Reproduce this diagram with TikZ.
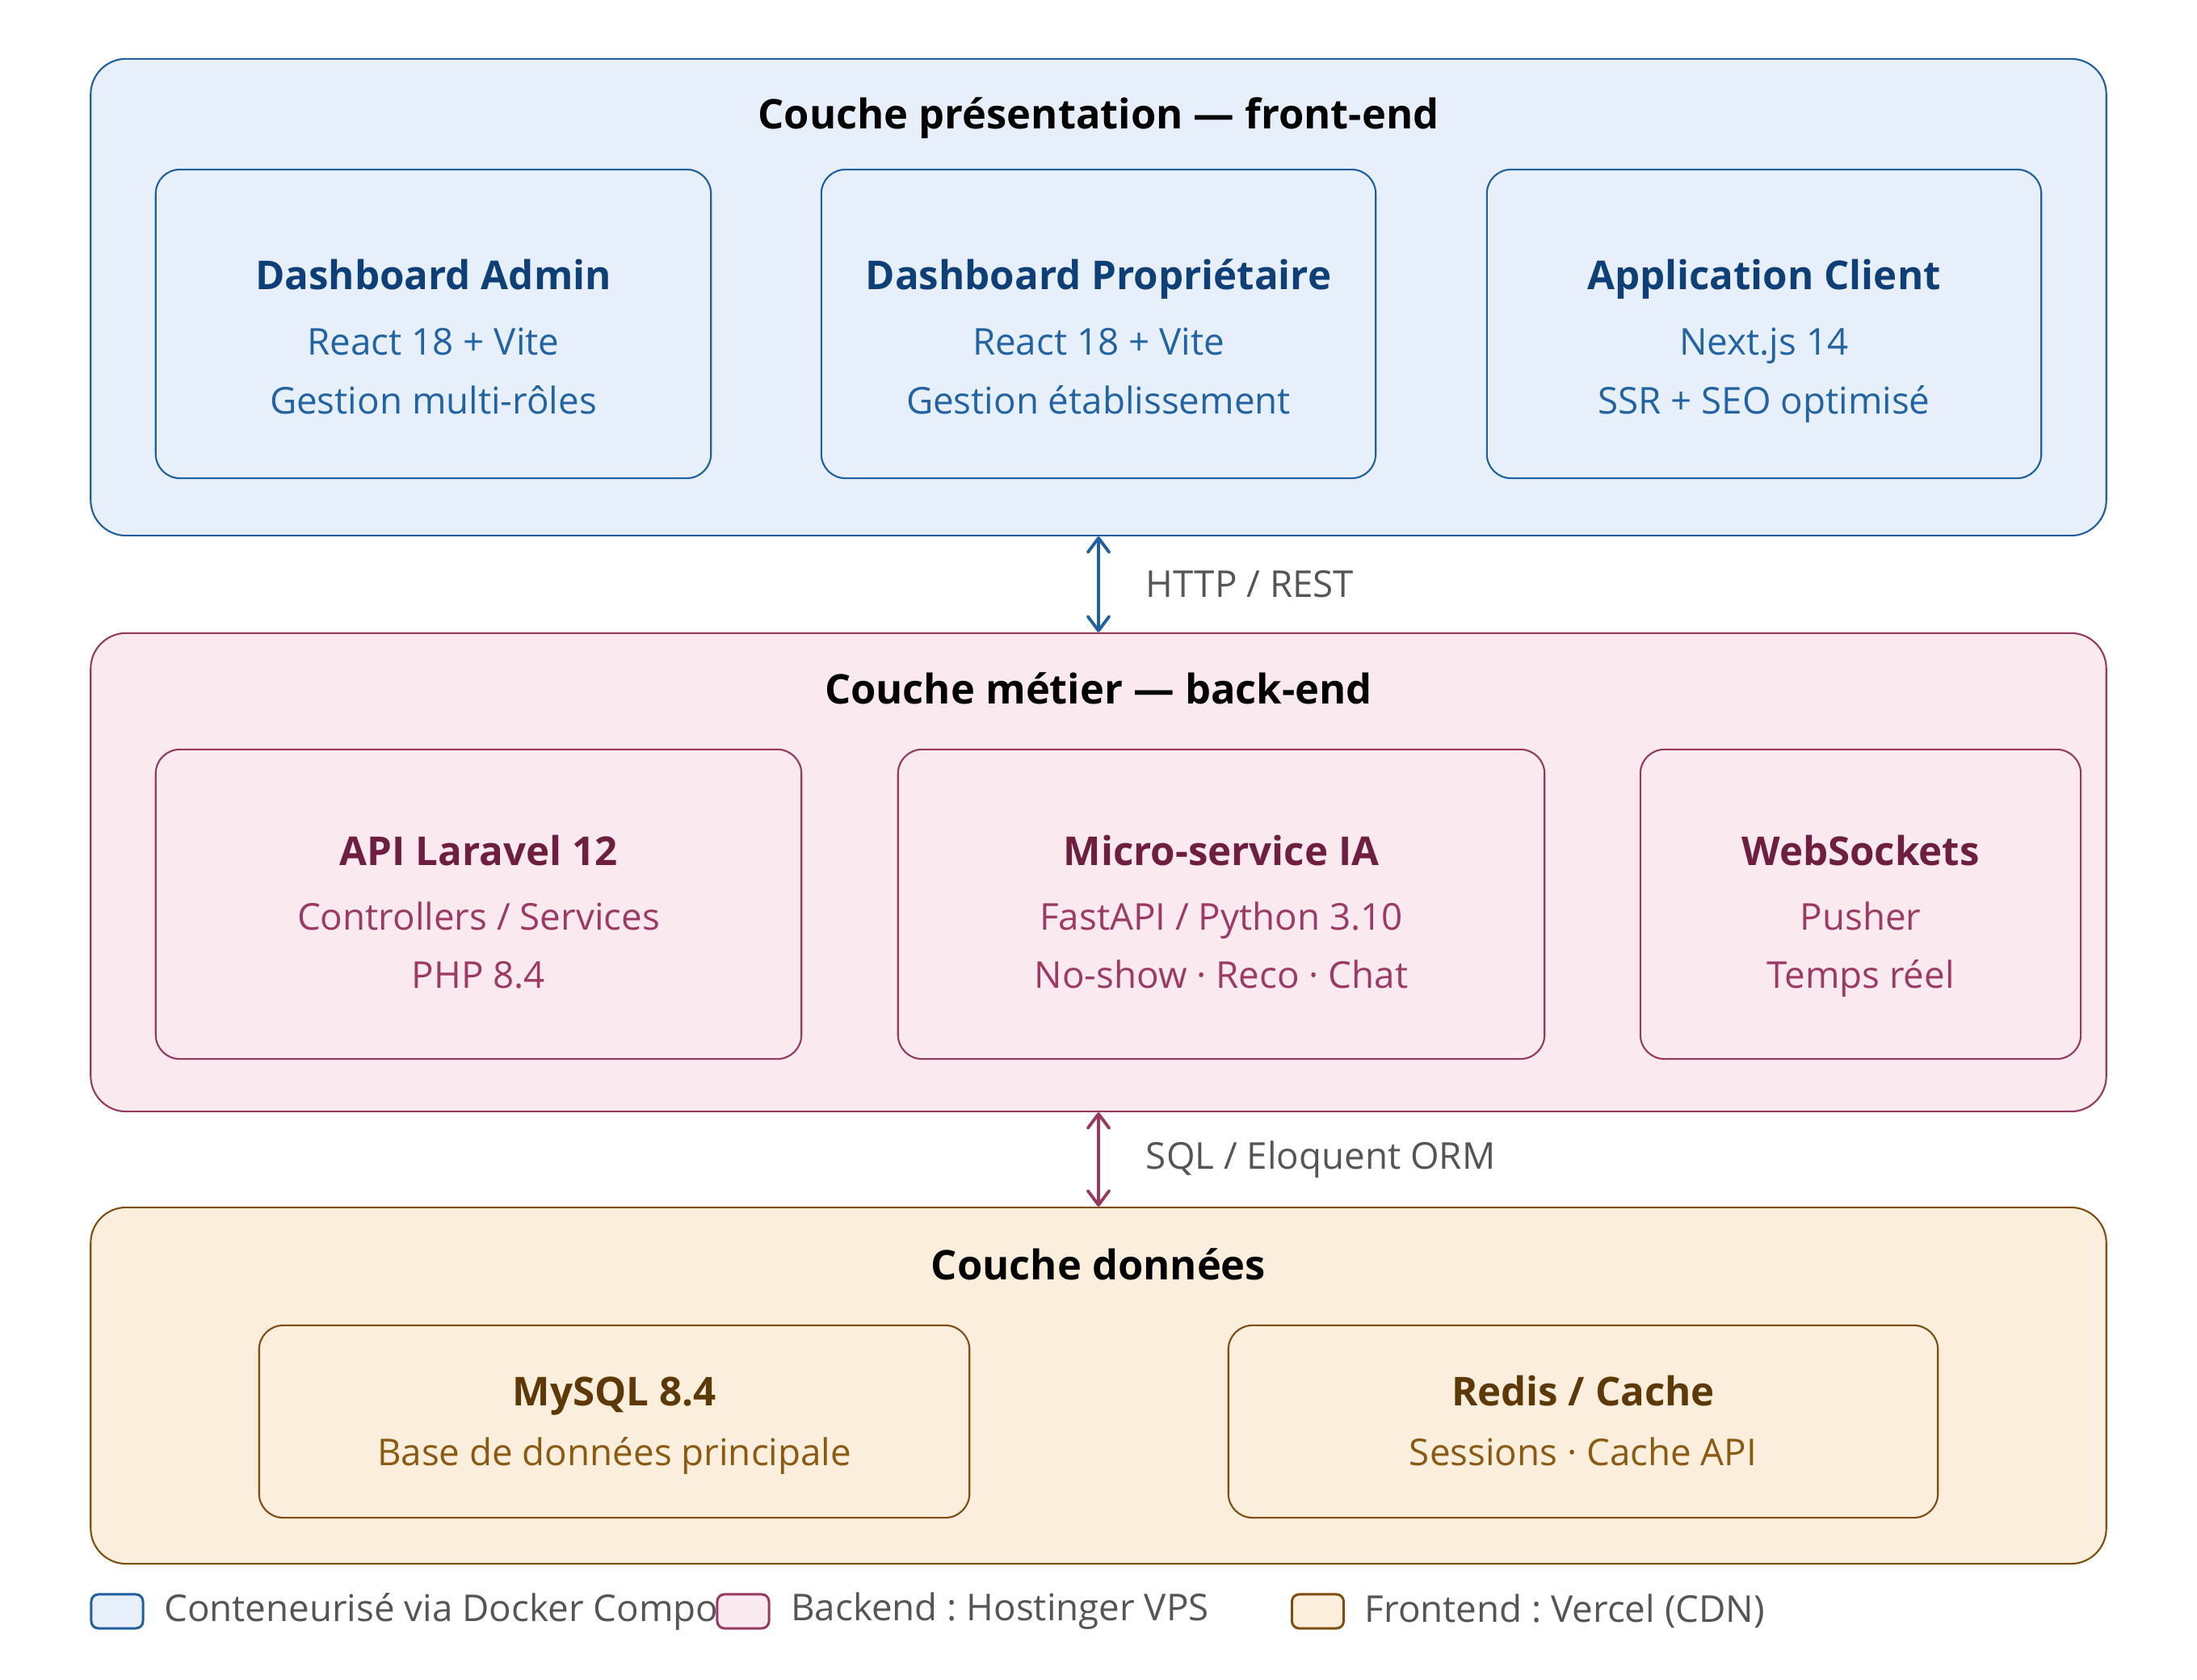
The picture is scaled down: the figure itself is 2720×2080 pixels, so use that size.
\documentclass[tikz,border=0pt]{standalone}
\usepackage{fontspec}
\setmainfont{Open Sans}
\usetikzlibrary{arrows.meta,positioning}
\frenchspacing

\definecolor{feFill}{HTML}{E7F0FA}
\definecolor{feLine}{HTML}{1F5F9E}
\definecolor{feTitle}{HTML}{0E3F76}
\definecolor{feText}{HTML}{2163A3}
\definecolor{beFill}{HTML}{FBE9F0}
\definecolor{beLine}{HTML}{953A5E}
\definecolor{beTitle}{HTML}{6E1F40}
\definecolor{beText}{HTML}{9C3A63}
\definecolor{dbFill}{HTML}{FCEEDC}
\definecolor{dbLine}{HTML}{7D4E10}
\definecolor{dbTitle}{HTML}{5C3906}
\definecolor{dbText}{HTML}{8A5A12}
\definecolor{labelgray}{HTML}{555555}

\tikzset{
  layer/.style={draw, line width=0.6pt, rounded corners=12.5pt, inner sep=0pt},
  box/.style={draw, line width=0.6pt, rounded corners=8.5pt, inner sep=0pt},
  laytitle/.style={font=\fontsize{14.4}{17}\selectfont\bfseries, text=black, inner sep=0pt, anchor=mid},
  boxtitle/.style={font=\fontsize{14}{17}\selectfont\bfseries, inner sep=0pt, anchor=mid},
  boxtext/.style={font=\fontsize{13}{16}\selectfont, inner sep=0pt, anchor=mid},
  linklabel/.style={font=\fontsize{13}{16}\selectfont, text=labelgray, inner sep=0pt},
  link/.style={line width=1.1pt,
    {Straight Barb[length=5pt,width=7.5pt,round]}-{Straight Barb[length=5pt,width=7.5pt,round]}},
  legbox/.style={draw, line width=0.85pt, rounded corners=2.5pt, minimum width=0.64cm,
    minimum height=0.42cm, inner sep=0pt},
  legtext/.style={font=\fontsize{13}{16}\selectfont, text=labelgray, inner sep=0pt}
}

\begin{document}
\begin{tikzpicture}[x=0.01cm, y=-0.01cm]
  \useasboundingbox (0,0) rectangle (2720,2080);

  % Front-end layer
  \node[layer, fill=feFill, draw=feLine, minimum width=24.94cm, minimum height=5.90cm] (front) at (1360,368) {};
  \node[laytitle] (fronttitle) at (1360,150) {Couche présentation — front-end};

  \node[box, fill=feFill, draw=feLine, minimum width=6.87cm, minimum height=3.82cm] (admin) at (536.5,401) {};
  \node[boxtitle, text=feTitle] (admint) at (536.5,349) {Dashboard Admin};
  \node[boxtext, text=feText] (adminl1) at (536.5,430) {React 18 + Vite};
  \node[boxtext, text=feText] (adminl2) at (536.5,503) {Gestion multi-rôles};

  \node[box, fill=feFill, draw=feLine, minimum width=6.86cm, minimum height=3.82cm] (owner) at (1360,401) {};
  \node[boxtitle, text=feTitle] (ownert) at (1360,349) {Dashboard Propriétaire};
  \node[boxtext, text=feText] (ownerl1) at (1360,430) {React 18 + Vite};
  \node[boxtext, text=feText] (ownerl2) at (1360,503) {Gestion établissement};

  \node[box, fill=feFill, draw=feLine, minimum width=6.86cm, minimum height=3.82cm] (client) at (2184,401) {};
  \node[boxtitle, text=feTitle] (clientt) at (2184,349) {Application Client};
  \node[boxtext, text=feText] (clientl1) at (2184,430) {Next.js 14};
  \node[boxtext, text=feText] (clientl2) at (2184,503) {SSR + SEO optimisé};

  % Back-end layer
  \node[layer, fill=beFill, draw=beLine, minimum width=24.94cm, minimum height=5.92cm] (back) at (1360,1080) {};
  \node[laytitle] (backtitle) at (1360,862) {Couche métier — back-end};

  \node[box, fill=beFill, draw=beLine, minimum width=7.99cm, minimum height=3.83cm] (api) at (592.5,1119.5) {};
  \node[boxtitle, text=beTitle] (apit) at (592.5,1062) {API Laravel 12};
  \node[boxtext, text=beText] (apil1) at (592.5,1142) {Controllers / Services};
  \node[boxtext, text=beText] (apil2) at (592.5,1214) {PHP 8.4};

  \node[box, fill=beFill, draw=beLine, minimum width=8.00cm, minimum height=3.83cm] (ia) at (1512,1119.5) {};
  \node[boxtitle, text=beTitle] (iat) at (1512,1062) {Micro-service IA};
  \node[boxtext, text=beText] (ial1) at (1512,1142) {FastAPI / Python 3.10};
  \node[boxtext, text=beText] (ial2) at (1512,1214) {No-show · Reco · Chat};

  \node[box, fill=beFill, draw=beLine, minimum width=5.45cm, minimum height=3.83cm] (ws) at (2303.5,1119.5) {};
  \node[boxtitle, text=beTitle] (wst) at (2303.5,1062) {WebSockets};
  \node[boxtext, text=beText] (wsl1) at (2303.5,1142) {Pusher};
  \node[boxtext, text=beText] (wsl2) at (2303.5,1214) {Temps réel};

  % Data layer
  \node[layer, fill=dbFill, draw=dbLine, minimum width=24.94cm, minimum height=4.41cm] (data) at (1360,1715.5) {};
  \node[laytitle] (datatitle) at (1360,1575) {Couche données};

  \node[box, fill=dbFill, draw=dbLine, minimum width=8.79cm, minimum height=2.38cm] (mysql) at (760.5,1760) {};
  \node[boxtitle, text=dbTitle] (mysqlt) at (760.5,1731) {MySQL 8.4};
  \node[boxtext, text=dbText] (mysqll1) at (760.5,1805) {Base de données principale};

  \node[box, fill=dbFill, draw=dbLine, minimum width=8.78cm, minimum height=2.38cm] (redis) at (1960,1760) {};
  \node[boxtitle, text=dbTitle] (redist) at (1960,1731) {Redis / Cache};
  \node[boxtext, text=dbText] (redisl1) at (1960,1805) {Sessions · Cache API};

  % Links between layers
  \draw[link, draw=feLine] (front.south) -- node[linklabel, right=0.57cm] {HTTP / REST} (back.north);
  \draw[link, draw=beLine] (back.south) -- node[linklabel, right=0.57cm] {SQL / Eloquent ORM} (data.north);

  % Legend
  \node[legbox, fill=feFill, draw=feLine] (legfe) at (145,1995) {};
  \node[legtext, right=0.24cm of legfe] (legfet) {Conteneurisé via Docker Compo};
  \node[legbox, fill=beFill, draw=beLine] (legbe) at (920,1995) {};
  \node[legtext, right=0.25cm of legbe] (legbet) {Backend : Hostinger VPS};
  \node[legbox, fill=dbFill, draw=dbLine] (legdb) at (1631.5,1995) {};
  \node[legtext, right=0.24cm of legdb] (legdbt) {Frontend : Vercel (CDN)};
\end{tikzpicture}
\end{document}
